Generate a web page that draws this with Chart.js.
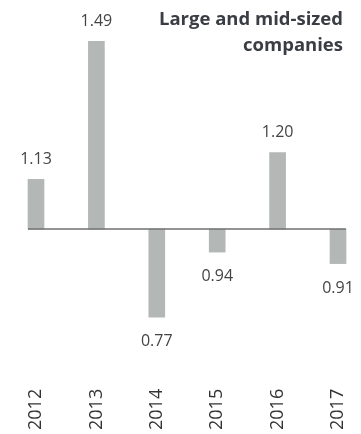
<!DOCTYPE html>
<html>
<head>
<meta charset="utf-8">
<script src="https://cdn.jsdelivr.net/npm/chart.js@4"></script>
<style>
  html, body { margin: 0; padding: 0; background: #fff; }
  #wrap { position: relative; width: 361px; height: 434px; }
  #title {
    position: absolute; right: 18px; top: 5px; text-align: right;
    font-family: 'Open Sans', sans-serif; font-weight: 700; font-size: 18.5px;
    line-height: 26px; color: #3a3d44;
  }
</style>
</head>
<body>
<div id="wrap">
  <canvas id="chart" width="361" height="434"></canvas>
  <div id="title">Large and mid-sized<br>companies</div>
</div>
<script>
// ── DATA ──────────────────────────────────────────────
const years  = ['2012', '2013', '2014', '2015', '2016', '2017'];
const values = [1.13, 1.49, 0.77, 0.94, 1.20, 0.91];
const BASE   = 1;

const COLORS = { bar: '#b3b7b6', axis: '#707070', label: '#444', tick: '#333' };
const FONT = "'Open Sans', sans-serif";

// baseline + value labels
const overlay = {
  id: 'overlay',
  afterDatasetsDraw(chart) {
    const { ctx, scales: { y } } = chart;
    const bars = chart.getDatasetMeta(0).data;
    const y0 = y.getPixelForValue(BASE);
    const first = bars[0], last = bars[bars.length - 1];
    ctx.save();
    ctx.strokeStyle = COLORS.axis;
    ctx.lineWidth = 1.5;
    ctx.beginPath();
    ctx.moveTo(first.x - first.width / 2, y0);
    ctx.lineTo(last.x + last.width / 2, y0);
    ctx.stroke();

    ctx.font = `400 16px ${FONT}`;
    ctx.fillStyle = COLORS.label;
    ctx.textAlign = 'center';
    ctx.textBaseline = 'alphabetic';
    bars.forEach((b, i) => {
      const v = values[i];
      const py = y.getPixelForValue(v);
      const ty = v >= BASE ? py - 15 : py + 29;
      ctx.fillText(v.toFixed(2), b.x, ty);
    });
    ctx.restore();
  }
};

new Chart(document.getElementById('chart'), {
  type: 'bar',
  data: {
    labels: years,
    datasets: [{
      data: values.map(v => [BASE, v]),
      backgroundColor: COLORS.bar,
      borderWidth: 0,
      barThickness: 16,
      clip: false,
    }]
  },
  options: {
    responsive: false,
    animation: false,
    layout: { padding: { left: 36, right: 23, top: 0, bottom: 4 } },
    plugins: { legend: { display: false }, tooltip: { enabled: false } },
    scales: {
      x: {
        offset: false,
        grid: { display: false },
        border: { display: false },
        ticks: {
          minRotation: 90, maxRotation: 90, padding: 0,
          color: COLORS.tick, font: { family: FONT, size: 18 }
        }
      },
      y: { display: false, min: 0.604, max: 1.598 }
    }
  },
  plugins: [overlay]
});
</script>
</body>
</html>
